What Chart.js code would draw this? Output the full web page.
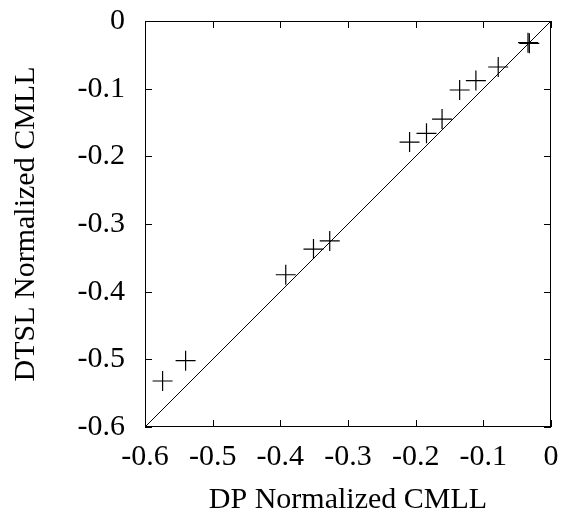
<!DOCTYPE html>
<html>
<head>
<meta charset="utf-8">
<script src="https://cdn.jsdelivr.net/npm/chart.js@4.4.0/dist/chart.umd.min.js"></script>
<style>
    html, body { margin: 0; padding: 0; background: #fff; }
    #wrap { width: 565px; height: 518px; }
</style>
</head>
<body>
<div id="wrap"><canvas id="myChart" width="565" height="518"></canvas></div>
<script>
// values
const dpValues   = [-0.574, -0.540, -0.392, -0.351, -0.327, -0.209, -0.184, -0.161, -0.135, -0.111, -0.078, -0.034, -0.032];
const dtslValues = [-0.532, -0.502, -0.375, -0.337, -0.325, -0.179, -0.166, -0.145, -0.102, -0.088, -0.068, -0.032, -0.033];
const tickValues = [-0.6, -0.5, -0.4, -0.3, -0.2, -0.1, 0];
const tickLabels = ['-0.6', '-0.5', '-0.4', '-0.3', '-0.2', '-0.1', '0'];
const diagonalX  = [-0.6, 0];

const fontFamily = "'Liberation Serif', 'Times New Roman', serif";

const points = dpValues.map((x, i) => ({ x: x, y: dtslValues[i] }));
const diagonal = diagonalX.map(v => ({ x: v, y: v }));

function labelFor(value) {
    const i = tickValues.findIndex(t => Math.abs(t - value) < 1e-6);
    return i >= 0 ? tickLabels[i] : '';
}

// gnuplot-like frame with inward ticks on all four sides
const framePlugin = {
    id: 'frame',
    afterDraw(chart) {
        const ctx = chart.ctx;
        const a = chart.chartArea;
        const xs = chart.scales.x;
        const ys = chart.scales.y;
        const len = 7;
        ctx.save();
        ctx.strokeStyle = '#000';
        ctx.lineWidth = 1;
        ctx.strokeRect(a.left + 0.5, a.top + 0.5, a.right - a.left - 1, a.bottom - a.top - 1);
        ctx.beginPath();
        tickValues.forEach(v => {
            const px = Math.round(xs.getPixelForValue(v)) + 0.5;
            ctx.moveTo(px, a.bottom); ctx.lineTo(px, a.bottom - len);
            ctx.moveTo(px, a.top); ctx.lineTo(px, a.top + len);
            const py = Math.round(ys.getPixelForValue(v)) + 0.5;
            ctx.moveTo(a.left, py); ctx.lineTo(a.left + len, py);
            ctx.moveTo(a.right, py); ctx.lineTo(a.right - len, py);
        });
        ctx.stroke();
        ctx.restore();
    }
};

const ctx = document.getElementById('myChart').getContext('2d');
const chart = new Chart(ctx, {
    type: 'scatter',
    data: {
        datasets: [
            {
                label: 'diagonal',
                type: 'line',
                data: diagonal,
                borderColor: '#000',
                borderWidth: 1,
                pointRadius: 0,
                fill: false
            },
            {
                label: 'DTSL vs DP',
                data: points,
                pointStyle: 'cross',
                pointRadius: 10,
                pointBorderWidth: 1.2,
                borderColor: '#000',
                backgroundColor: '#000'
            }
        ]
    },
    options: {
        responsive: false,
        animation: false,
        layout: { padding: { top: 21, right: 14, left: 0, bottom: 0 } },
        plugins: {
            legend: { display: false },
            tooltip: { enabled: false }
        },
        scales: {
            x: {
                type: 'linear',
                min: -0.6,
                max: 0,
                afterBuildTicks: scale => { scale.ticks = tickValues.map(v => ({ value: v })); },
                afterFit: scale => {
                    scale.height = 91;
                    // no extra room for the end labels, the layout padding handles it
                    scale.paddingLeft = 0;
                    scale.paddingRight = 0;
                },
                grid: { drawOnChartArea: false, drawTicks: false },
                border: { display: false },
                ticks: {
                    color: '#000',
                    padding: 12,
                    maxRotation: 0,
                    font: { family: fontFamily, size: 30 },
                    callback: v => labelFor(v)
                },
                title: {
                    display: true,
                    text: 'DP Normalized CMLL',
                    color: '#000',
                    padding: { top: 6, bottom: 0 },
                    font: { family: fontFamily, size: 30 }
                }
            },
            y: {
                type: 'linear',
                min: -0.6,
                max: 0,
                afterBuildTicks: scale => { scale.ticks = tickValues.map(v => ({ value: v })); },
                afterFit: scale => {
                    scale.width = 145;
                    scale.paddingTop = 0;
                    scale.paddingBottom = 0;
                },
                grid: { drawOnChartArea: false, drawTicks: false },
                border: { display: false },
                ticks: {
                    color: '#000',
                    padding: 20,
                    font: { family: fontFamily, size: 30 },
                    callback: v => labelFor(v)
                },
                title: {
                    display: true,
                    text: 'DTSL Normalized CMLL',
                    color: '#000',
                    padding: { top: 8, bottom: 8 },
                    font: { family: fontFamily, size: 30 }
                }
            }
        }
    },
    plugins: [framePlugin]
});
</script>
</body>
</html>
